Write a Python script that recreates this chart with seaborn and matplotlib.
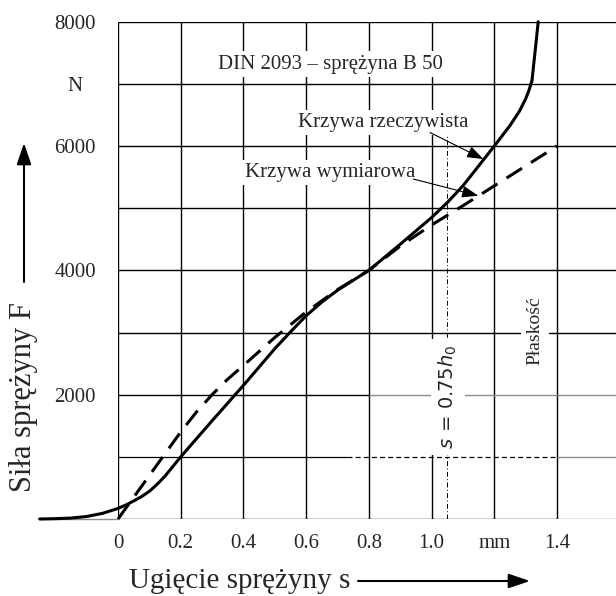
import numpy as np
import pandas as pd
import seaborn as sns
import matplotlib.pyplot as plt

# --- data ---
# Krzywa rzeczywista (measured curve), s in mm, F in N
s_real = [-0.25, -0.2, -0.15, -0.1, -0.05, 0.0, 0.025, 0.05, 0.075, 0.1, 0.125, 0.15,
          0.2, 0.25, 0.3, 0.4, 0.5, 0.55, 0.6, 0.65, 0.7, 0.8, 0.9, 1.0, 1.05, 1.1,
          1.15, 1.2, 1.25, 1.28, 1.3, 1.31, 1.32, 1.33, 1.335, 1.34]
F_real = [0, 5, 15, 40, 90, 170, 225, 290, 360, 445, 560, 690,
          1000, 1290, 1580, 2150, 2740, 3010, 3270, 3490, 3680, 4000, 4420, 4850, 5090, 5360,
          5680, 6000, 6330, 6560, 6760, 6890, 7050, 7520, 7760, 8000]

# Krzywa wymiarowa (design curve)
s_dim = [0.0, 0.1, 0.2, 0.25, 0.3, 0.35, 0.4, 0.5, 0.6, 0.7, 0.8, 0.9, 1.0, 1.1, 1.2, 1.3, 1.4]
F_dim = [0, 700, 1400, 1720, 2000, 2250, 2470, 2920, 3330, 3690, 4000, 4390, 4730, 5040,
         5360, 5680, 6000]

x_grid = [0.0, 0.2, 0.4, 0.6, 0.8, 1.0, 1.2, 1.4]
x_labels = ["0", "0.2", "0.4", "0.6", "0.8", "1.0", "mm", "1.4"]
y_grid = [0, 1000, 2000, 3000, 4000, 5000, 6000, 7000, 8000]
y_ticks = [2000, 4000, 6000, 7000, 8000]
y_labels = ["2000", "4000", "6000", "N", "8000"]

s_075h0 = 1.05
x_right = 1.588

sns.set_style("white")
plt.rcParams["font.family"] = ["Liberation Serif", "DejaVu Serif"]

W, H = 616, 596
fig = plt.figure(figsize=(W / 100, H / 100), dpi=100)
ax = fig.add_axes([118 / W, (H - 519) / H, (W - 118) / W, (519 - 21.7) / H])
ax.set_xlim(0, x_right)
ax.set_ylim(0, 8000)
for sp in ax.spines.values():
    sp.set_visible(False)

# --- grid ---
ax.vlines(x_grid, 0, 8000, color="black", lw=1.0, zorder=1)
gray = "#8c8c8c"
for y in y_grid:
    right_col = gray if y <= 2000 else "black"
    ax.hlines(y, 1.4, x_right, color=right_col, lw=1.0, zorder=1)
    if y == 1000:
        ax.hlines(y, 0, 0.73, color="black", lw=0.9, zorder=1)
        ax.plot([0.73, 1.4], [y, y], color="black", lw=0.9, ls=(0, (4, 2.5)), zorder=1)
    elif y == 2000:
        ax.hlines(y, 0, 0.8, color="black", lw=1.0, zorder=1)
        ax.hlines(y, 0.8, 1.4, color=gray, lw=1.0, zorder=1)
    else:
        ax.hlines(y, 0, 1.4, color="black", lw=1.0, zorder=1)
ax.plot([-0.25, 0], [0, 0], color=gray, lw=1.0, clip_on=False, zorder=1)

# s = 0.75 h0 line
ax.plot([s_075h0, s_075h0], [0, 6220], color="black", lw=0.7,
        ls=(0, (5, 2.5, 1, 2.5)), zorder=2)

# --- curves ---
real_df = pd.DataFrame({"s": s_real, "F": F_real})
dim_df = pd.DataFrame({"s": s_dim, "F": F_dim})
sns.lineplot(data=real_df, x="s", y="F", ax=ax, color="black", lw=2.2,
             sort=False, estimator=None, clip_on=False, zorder=5)
sns.lineplot(data=dim_df, x="s", y="F", ax=ax, color="black", lw=2.2,
             linestyle=(0, (6, 3.5)), sort=False, estimator=None, clip_on=False, zorder=5)

# --- ticks ---
ax.set_xticks(x_grid)
ax.set_xticklabels(x_labels, fontsize=15)
ax.set_yticks(y_ticks)
ax.set_yticklabels(y_labels, fontsize=15)
ax.tick_params(axis="both", length=0)
ax.tick_params(axis="x", pad=11)
ax.tick_params(axis="y", pad=31)
for lab in ax.get_yticklabels():
    lab.set_horizontalalignment("center")
ax.set_xlabel("")
ax.set_ylabel("")

# --- texts ---
box = dict(boxstyle="square,pad=0.15", fc="white", ec="none")
ax.text(0.678, 7246, "DIN 2093 – sprężyna B 50", fontsize=15, ha="center",
        va="baseline", bbox=box, zorder=3)
ax.text(0.846, 6302, "Krzywa rzeczywista", fontsize=15, ha="center",
        va="baseline", bbox=box, zorder=3)
ax.text(0.676, 5503, "Krzywa wymiarowa", fontsize=15, ha="center",
        va="baseline", bbox=box, zorder=3)
ax.text(1.053, 1966, r"$s\,=\,0.75h_0$", fontsize=14, rotation=90, ha="center",
        va="center", bbox=dict(boxstyle="square,pad=0.3", fc="white", ec="none"), zorder=3)
ax.text(1.33, 3034, "Płaskość", fontsize=14, rotation=90, ha="center",
        va="center", bbox=dict(boxstyle="square,pad=0.3", fc="white", ec="none"), zorder=3)

arr = dict(arrowstyle="-|>,head_length=1.0,head_width=0.36", mutation_scale=10,
           color="black", lw=0.8, shrinkA=0, shrinkB=0)
ax.annotate("", xy=(1.165, 5790), xytext=(0.995, 6217), arrowprops=arr, zorder=6)
ax.annotate("", xy=(1.149, 5200), xytext=(0.942, 5469), arrowprops=arr, zorder=6)

# --- axis titles with arrows ---
fig.text(24 / W, 1 - 397.5 / H, "Siła sprężyny F", fontsize=22, rotation=90,
         ha="center", va="center")
fig.text(240 / W, 1 - 588 / H, "Ugięcie sprężyny s", fontsize=21,
         ha="center", va="baseline")
big = dict(arrowstyle="-|>,head_length=0.65,head_width=0.22", mutation_scale=20,
           color="black", lw=1.5, shrinkA=0, shrinkB=0)
ax.annotate("", xy=(24 / W, 1 - 143 / H), xytext=(24 / W, 1 - 282 / H),
            xycoords="figure fraction", textcoords="figure fraction", arrowprops=big)
ax.annotate("", xy=(530 / W, 1 - 581 / H), xytext=(358 / W, 1 - 581 / H),
            xycoords="figure fraction", textcoords="figure fraction", arrowprops=big)

fig.savefig("out.png", dpi=100)
